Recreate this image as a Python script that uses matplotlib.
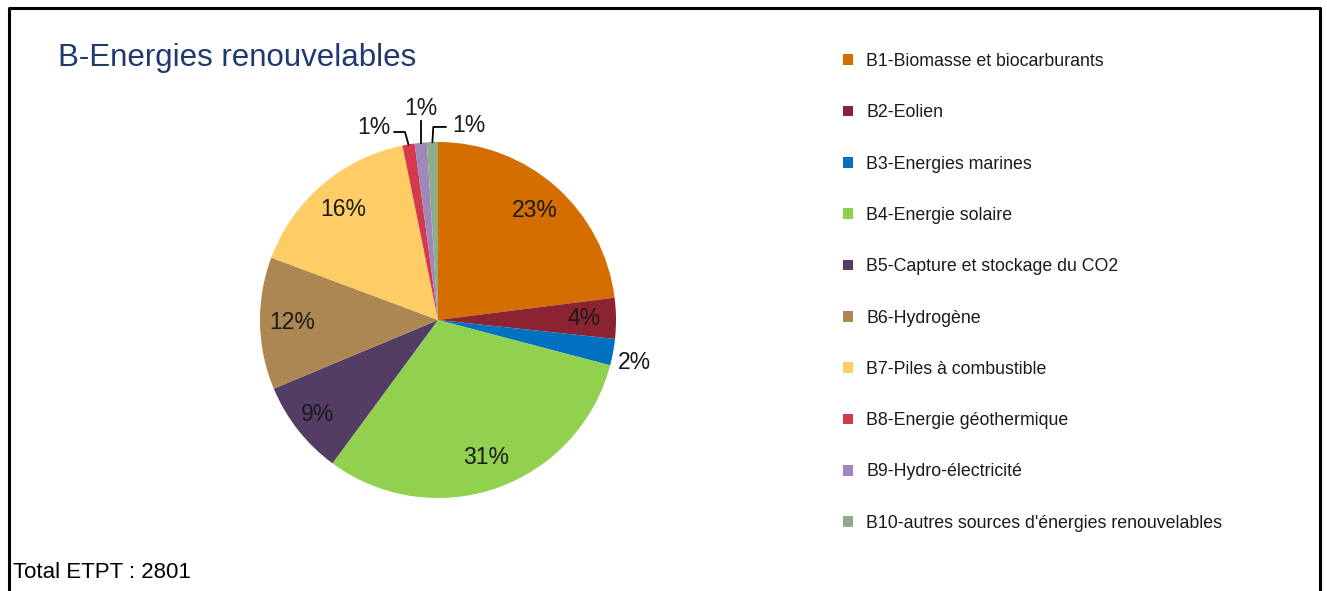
import matplotlib
matplotlib.use("Agg")
import matplotlib.pyplot as plt
import numpy as np
from matplotlib import font_manager

names = {f.name for f in font_manager.fontManager.ttflist}
narrow = "Liberation Sans Narrow" if "Liberation Sans Narrow" in names else "Liberation Sans"
plt.rcParams["font.family"] = [narrow, "DejaVu Sans"]

categories = [
    "B1-Biomasse et biocarburants",
    "B2-Eolien",
    "B3-Energies marines",
    "B4-Energie solaire",
    "B5-Capture et stockage du CO2",
    "B6-Hydrogène",
    "B7-Piles à combustible",
    "B8-Energie géothermique",
    "B9-Hydro-électricité",
    "B10-autres sources d'énergies renouvelables",
]
shares = [23.0, 3.7, 2.4, 31.0, 8.6, 12.0, 16.1, 1.1, 1.1, 1.0]
colors = ["#D46E00", "#8B2332", "#0070C0", "#92D050", "#533D65",
          "#AC8752", "#FFCC66", "#D5394B", "#A088BB", "#8FAD88"]
title = "B-Energies renouvelables"
total_label = "Total ETPT : 2801"

W, H = 1327, 591
fig = plt.figure(figsize=(W / 100, H / 100), dpi=100)

# frame around the chart (open at the bottom)
frame = fig.add_axes([0, 0, 1, 1])
frame.set_xlim(0, W)
frame.set_ylim(H, 0)
frame.axis("off")
frame.plot([9, 9, 1320, 1320], [H, 8, 8, H], color="black", lw=2.2, solid_capstyle="butt")

# pie axes: center at (438, 320), radius 178 px
cx, cy, r, half = 438, 320, 178, 200
ax = fig.add_axes([(cx - half) / W, (H - cy - half) / H, 2 * half / W, 2 * half / H])
lim = half / r
ax.axis("off")

wedges, _ = ax.pie(shares, colors=colors, startangle=90, counterclock=False,
                   radius=1.0, frame=False)
ax.set_xlim(-lim, lim)
ax.set_ylim(-lim, lim)
ax.set_aspect("equal")

lbl = dict(fontsize=16.5, color="#1a1a1a", clip_on=False)
total = sum(shares)
pcts = [round(100 * s / total) for s in shares]
for i, (w, p) in enumerate(zip(wedges, pcts)):
    mid = np.deg2rad((w.theta1 + w.theta2) / 2)
    if i in (0, 1, 3, 4, 5, 6):
        d = 0.82 if i != 4 else 0.86
        ax.text(d * np.cos(mid), d * np.sin(mid), f"{p}%", ha="center", va="center", **lbl)
    elif i == 2:
        ax.text(1.03 * np.cos(mid), 1.03 * np.sin(mid) - 0.05, f"{p}%", ha="left",
                va="center", **lbl)

# small slices at the top with leader lines
edge = [(np.cos(np.deg2rad((w.theta1 + w.theta2) / 2)),
         np.sin(np.deg2rad((w.theta1 + w.theta2) / 2))) for w in wedges]
lead = dict(color="black", lw=1.3, clip_on=False)
x8, y8 = edge[7]
ax.plot([x8 - 0.08, x8 - 0.02, x8], [y8 + 0.07, y8 + 0.07, y8], **lead)
ax.text(x8 - 0.10, y8 + 0.095, "1%", ha="right", va="center", **lbl)
x9, y9 = edge[8]
ax.plot([x9, x9], [y9 + 0.12, y9], **lead)
ax.text(x9, y9 + 0.195, "1%", ha="center", va="center", **lbl)
x10, y10 = edge[9]
ax.plot([x10, x10 + 0.005, x10 + 0.075], [y10, y10 + 0.085, y10 + 0.085], **lead)
ax.text(x10 + 0.11, y10 + 0.095, "1%", ha="left", va="center", **lbl)

fig.text(58 / W, 1 - 58 / H, title, fontsize=22.5, color="#1F3A6E", ha="left", va="center")
fig.text(13 / W, 1 - 573 / H, total_label, fontsize=16, color="black", ha="left", va="center")

leg = fig.legend(wedges, categories, loc="upper left", bbox_to_anchor=(843 / W, 1 - 53 / H),
                 frameon=False, fontsize=12.8, handlelength=0.55, handleheight=0.55,
                 handletextpad=0.75, labelspacing=1.93, borderaxespad=0, borderpad=0)
for t in leg.get_texts():
    t.set_color("#1a1a1a")

plt.savefig("out.png", dpi=100)
plt.close()
